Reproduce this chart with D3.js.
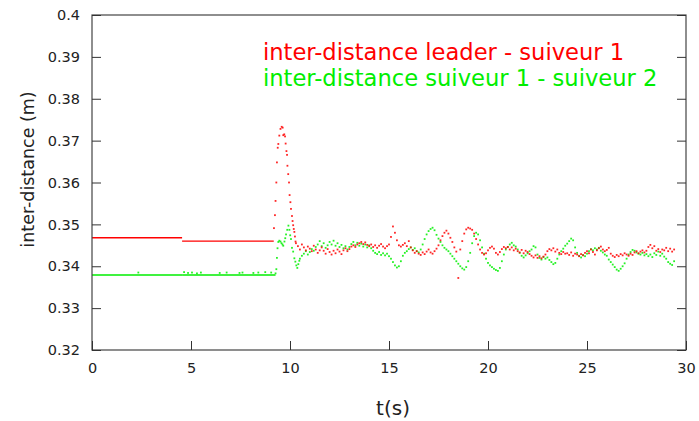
<!DOCTYPE html>
<html>
<head>
<meta charset="utf-8">
<script src="https://cdn.jsdelivr.net/npm/d3@7"></script>
<style>
  body { margin: 0; background: #fff; }
  text { font-family: "DejaVu Sans", sans-serif; }
</style>
</head>
<body>
<div id="chart-container"></div>
<script>
// inter-distance plot, leader / suiveur 1 / suiveur 2
const svgWidth = 699;
const svgHeight = 421;
const margin = { top: 15, right: 13, bottom: 71, left: 92 };
const width = svgWidth - margin.left - margin.right;
const height = svgHeight - margin.top - margin.bottom;

const xTicks = [0, 5, 10, 15, 20, 25, 30];
const yTicks = [0.32, 0.33, 0.34, 0.35, 0.36, 0.37, 0.38, 0.39, 0.4];

// flat parts at the start (drawn as segments: start, end, value)
const redFlatStart = [0, 4.55];
const redFlatEnd = [4.55, 9.18];
const redFlatValue = [0.3468, 0.3460];
const greenFlatStart = [0, 4.55];
const greenFlatEnd = [4.55, 9.27];
const greenFlatValue = [0.3379, 0.3379];
// few dots just above the green flat line
const greenFlatDotT = [2.34, 4.65, 4.85, 5.05, 5.3, 5.5, 6.45, 6.8, 7.45, 7.6, 8.15, 8.4, 8.75, 9.05];
const greenFlatDotV = [0.3385, 0.3386, 0.3384, 0.3385, 0.3383, 0.3385, 0.3384, 0.3385, 0.3384, 0.3385, 0.3384, 0.3385, 0.3386, 0.3385];

// peak after the leader starts (irregular time)
const redPeakT = [9.19, 9.24, 9.27, 9.31, 9.34, 9.38, 9.41, 9.46, 9.52, 9.58, 9.63, 9.66, 9.71, 9.75, 9.78, 9.82, 9.85, 9.87, 9.91, 9.95, 9.98, 10.02, 10.05, 10.1, 10.13, 10.16, 10.19, 10.22, 10.25, 10.28];
const redPeakV = [0.3491, 0.3522, 0.3556, 0.3600, 0.3648, 0.3683, 0.3692, 0.3712, 0.3728, 0.3733, 0.3731, 0.3713, 0.3715, 0.3710, 0.3693, 0.3675, 0.3666, 0.3640, 0.3620, 0.3600, 0.3570, 0.3553, 0.3537, 0.3520, 0.3508, 0.3498, 0.3489, 0.3482, 0.3471, 0.3459];
const greenPeakT = [9.27, 9.31, 9.34, 9.37, 9.41, 9.46, 9.52, 9.57, 9.62, 9.66, 9.72, 9.76, 9.8, 9.86, 9.92, 9.97, 10.01, 10.05, 10.1, 10.16, 10.22, 10.27, 10.32, 10.37, 10.42, 10.47];
const greenPeakV = [0.3383, 0.3393, 0.3420, 0.3443, 0.3458, 0.3461, 0.3459, 0.3455, 0.3452, 0.3449, 0.3459, 0.3467, 0.3476, 0.3487, 0.3497, 0.3487, 0.3474, 0.3465, 0.3444, 0.3435, 0.3419, 0.3411, 0.3402, 0.3396, 0.3405, 0.3413];

// sampled every 0.1 s afterwards
const sampleStep = 0.1;
const redStart = 10.3;
const redValues = [
  0.3455, 0.3448, 0.3440, 0.3452, 0.3445, 0.3438, 0.3447,
  0.3442, 0.3436, 0.3449, 0.3440, 0.3432, 0.3438, 0.3445, 0.3437, 0.3430, 0.3441,
  0.3434, 0.3428, 0.3437, 0.3431, 0.3440, 0.3435, 0.3429, 0.3438, 0.3443, 0.3436,
  0.3441, 0.3447, 0.3450, 0.3446, 0.3452, 0.3455, 0.3458, 0.3453, 0.3457, 0.3451,
  0.3448, 0.3452, 0.3446, 0.3450, 0.3444, 0.3449, 0.3453, 0.3447, 0.3443, 0.3448,
  0.3452, 0.3470, 0.3495, 0.3480, 0.3462, 0.3450, 0.3447, 0.3451, 0.3455, 0.3448,
  0.3460, 0.3445, 0.3438, 0.3432, 0.3436, 0.3430, 0.3427, 0.3433, 0.3429, 0.3435,
  0.3440, 0.3433, 0.3430, 0.3436, 0.3442, 0.3450, 0.3462, 0.3472, 0.3480, 0.3485,
  0.3478, 0.3468, 0.3458, 0.3445, 0.3435, 0.3372, 0.3440, 0.3460, 0.3478, 0.3488,
  0.3492, 0.3490, 0.3487, 0.3478, 0.3465, 0.3452, 0.3440, 0.3432, 0.3428, 0.3431,
  0.3438, 0.3444, 0.3447, 0.3442, 0.3432, 0.3428, 0.3434, 0.3441, 0.3446, 0.3443,
  0.3446, 0.3440, 0.3445, 0.3438, 0.3442, 0.3436, 0.3433, 0.3439, 0.3431, 0.3437,
  0.3434, 0.3429, 0.3425, 0.3421, 0.3426, 0.3420, 0.3424, 0.3419, 0.3423, 0.3428,
  0.3436, 0.3441, 0.3438, 0.3443, 0.3435, 0.3440, 0.3432, 0.3429, 0.3434, 0.3430,
  0.3431, 0.3427, 0.3433, 0.3425, 0.3430, 0.3428, 0.3424, 0.3429, 0.3426, 0.3432,
  0.3436, 0.3431, 0.3440, 0.3434, 0.3428, 0.3438, 0.3443, 0.3447, 0.3440, 0.3436,
  0.3439, 0.3444, 0.3430, 0.3425, 0.3422, 0.3427, 0.3424, 0.3429, 0.3426, 0.3431,
  0.3428, 0.3425, 0.3430, 0.3427, 0.3433, 0.3436, 0.3431, 0.3435, 0.3438, 0.3433,
  0.3437, 0.3446, 0.3451, 0.3443, 0.3448, 0.3437, 0.3441, 0.3434, 0.3440, 0.3438,
  0.3444, 0.3436, 0.3442, 0.3435, 0.3440
];
const greenStart = 10.5;
const greenValues = [
  0.3418, 0.3425, 0.3430, 0.3436, 0.3428,
  0.3434, 0.3441, 0.3437, 0.3446, 0.3452, 0.3460, 0.3448, 0.3455, 0.3444, 0.3450,
  0.3458, 0.3452, 0.3461, 0.3449, 0.3455, 0.3446, 0.3451, 0.3443, 0.3448, 0.3440,
  0.3446, 0.3453, 0.3458, 0.3450, 0.3456, 0.3449, 0.3454, 0.3447, 0.3452, 0.3445,
  0.3450, 0.3443, 0.3437, 0.3432, 0.3429, 0.3434, 0.3427, 0.3431, 0.3426, 0.3430,
  0.3424, 0.3418, 0.3410, 0.3402, 0.3397, 0.3400, 0.3412, 0.3425, 0.3432, 0.3436,
  0.3441, 0.3445, 0.3439, 0.3443, 0.3436, 0.3433, 0.3440, 0.3452, 0.3465, 0.3476,
  0.3484, 0.3489, 0.3492, 0.3486, 0.3475, 0.3466, 0.3458, 0.3450, 0.3444, 0.3440,
  0.3436, 0.3430, 0.3424, 0.3418, 0.3412, 0.3406, 0.3400, 0.3395, 0.3392, 0.3398,
  0.3412, 0.3432, 0.3455, 0.3472, 0.3480, 0.3476, 0.3462, 0.3445, 0.3430, 0.3418,
  0.3408, 0.3402, 0.3398, 0.3394, 0.3391, 0.3389, 0.3396, 0.3412, 0.3428, 0.3440,
  0.3446, 0.3452, 0.3456, 0.3450, 0.3447, 0.3440, 0.3432, 0.3425, 0.3421, 0.3426,
  0.3431, 0.3436, 0.3440, 0.3448, 0.3445, 0.3428, 0.3420, 0.3416, 0.3422, 0.3418,
  0.3421, 0.3415, 0.3410, 0.3405, 0.3408, 0.3418, 0.3428, 0.3436, 0.3442, 0.3449,
  0.3454, 0.3460, 0.3466, 0.3462, 0.3445, 0.3432, 0.3425, 0.3421, 0.3427, 0.3424,
  0.3430, 0.3436, 0.3441, 0.3438, 0.3443, 0.3440, 0.3444, 0.3437, 0.3433, 0.3428,
  0.3425, 0.3416, 0.3410, 0.3404, 0.3398, 0.3392, 0.3389, 0.3394, 0.3400, 0.3407,
  0.3418, 0.3428, 0.3434, 0.3439, 0.3437, 0.3433, 0.3430, 0.3428, 0.3432, 0.3426,
  0.3429, 0.3424, 0.3428, 0.3422, 0.3431, 0.3427, 0.3435, 0.3425, 0.3430, 0.3423,
  0.3418, 0.3410, 0.3406, 0.3403, 0.3412
];

const seriesNames = ["inter-distance leader - suiveur 1", "inter-distance suiveur 1 - suiveur 2"];
const seriesColors = ["#ff0000", "#00ee00"];

const svg = d3.select("#chart-container")
    .append("svg")
    .attr("width", svgWidth)
    .attr("height", svgHeight)
    .append("g")
    .attr("transform", `translate(${margin.left},${margin.top})`);

const x = d3.scaleLinear().domain([0, 30]).range([0, width]);
const y = d3.scaleLinear().domain([0.32, 0.4]).range([height, 0]);

// build point lists from the arrays
function sampled(start, values) {
    return values.map((v, i) => [+(start + i * sampleStep).toFixed(2), v]);
}
const redPoints = d3.zip(redPeakT, redPeakV).concat(sampled(redStart, redValues));
const greenPoints = d3.zip(greenFlatDotT, greenFlatDotV)
    .concat(d3.zip(greenPeakT, greenPeakV))
    .concat(sampled(greenStart, greenValues));

const flats = [
    { color: seriesColors[0], segs: d3.zip(redFlatStart, redFlatEnd, redFlatValue) },
    { color: seriesColors[1], segs: d3.zip(greenFlatStart, greenFlatEnd, greenFlatValue) }
];

flats.forEach(f => {
    svg.append("g").selectAll("line")
        .data(f.segs)
        .enter()
        .append("line")
        .attr("x1", d => x(d[0]))
        .attr("x2", d => x(d[1]))
        .attr("y1", d => y(d[2]))
        .attr("y2", d => y(d[2]))
        .attr("stroke", f.color)
        .attr("stroke-width", 1.4);
});

// dots, green first then red on top
[[greenPoints, seriesColors[1]], [redPoints, seriesColors[0]]].forEach(([pts, col]) => {
    svg.append("g").selectAll("rect")
        .data(pts)
        .enter()
        .append("rect")
        .attr("x", d => x(d[0]) - 0.9)
        .attr("y", d => y(d[1]) - 0.9)
        .attr("width", 1.8)
        .attr("height", 1.8)
        .attr("fill", col)
        .attr("opacity", 0.85);
});

// frame
svg.append("rect")
    .attr("x", 0).attr("y", 0)
    .attr("width", width).attr("height", height)
    .attr("fill", "none")
    .attr("stroke", "#444")
    .attr("stroke-width", 1.2);

// axes, ticks pointing inside
const axisLeft = svg.append("g")
    .call(d3.axisLeft(y).tickValues(yTicks).tickSizeInner(-9).tickSizeOuter(0).tickPadding(12)
        .tickFormat(d => d3.format("")(+d.toFixed(2))));
const axisRight = svg.append("g")
    .attr("transform", `translate(${width},0)`)
    .call(d3.axisRight(y).tickValues(yTicks).tickSizeInner(-9).tickSizeOuter(0).tickFormat(""));
const axisBottom = svg.append("g")
    .attr("transform", `translate(0,${height})`)
    .call(d3.axisBottom(x).tickValues(xTicks).tickSizeInner(-9).tickSizeOuter(0).tickPadding(13));

[axisLeft, axisRight, axisBottom].forEach(a => {
    a.select(".domain").remove();
    a.selectAll("line").attr("stroke", "#333").attr("stroke-width", 1);
    a.selectAll("text")
        .attr("font-family", "DejaVu Sans, sans-serif")
        .attr("font-size", 14.5)
        .attr("fill", "#222");
});

// axis titles
svg.append("text")
    .text("t(s)")
    .attr("x", x(15) + 4)
    .attr("y", height + 65)
    .attr("text-anchor", "middle")
    .attr("font-size", 20)
    .attr("fill", "#222");

svg.append("text")
    .text("inter-distance (m)")
    .attr("transform", `translate(${-58},${height / 2 - 13}) rotate(-90)`)
    .attr("text-anchor", "middle")
    .attr("font-size", 17.5)
    .attr("fill", "#222");

// legend (text only)
svg.selectAll(".legend")
    .data(seriesNames)
    .enter()
    .append("text")
    .attr("class", "legend")
    .text(d => d)
    .attr("x", 171)
    .attr("y", (d, i) => 45 + i * 26)
    .attr("font-size", 22.6)
    .attr("fill", (d, i) => seriesColors[i]);
</script>
</body>
</html>
